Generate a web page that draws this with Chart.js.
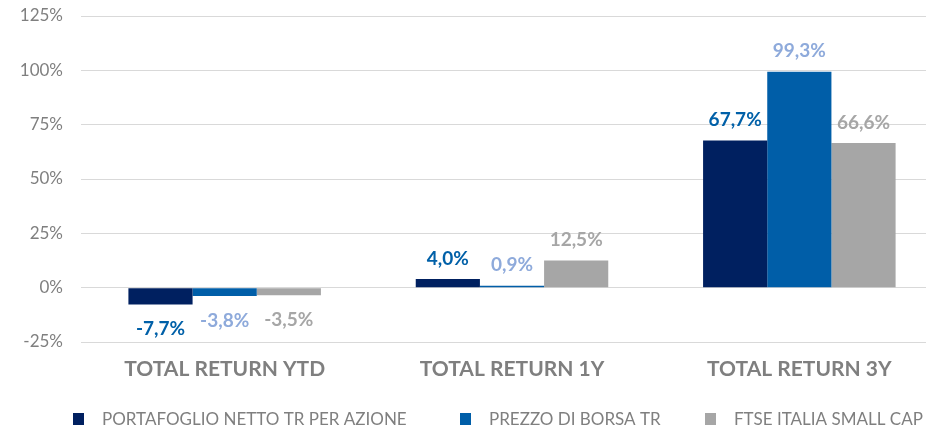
<!DOCTYPE html>
<html>
<head>
<meta charset="utf-8">
<script src="https://cdn.jsdelivr.net/npm/chart.js@4"></script>
<style>
  html, body { margin: 0; padding: 0; background: #fff; overflow: hidden; }
  #wrap { width: 926px; height: 427px; overflow: hidden; }
  #box { width: 1024px; height: 427px; position: relative; }
</style>
</head>
<body>
<div id="wrap"><div id="box"><canvas id="returns"></canvas></div></div>
<script>
// chart data
var categories = ['TOTAL RETURN YTD', 'TOTAL RETURN 1Y', 'TOTAL RETURN 3Y'];
var seriesNames = ['PORTAFOGLIO NETTO TR PER AZIONE', 'PREZZO DI BORSA TR', 'FTSE ITALIA SMALL CAP'];
var portafoglio = [-7.7, 4.0, 67.7];
var prezzo = [-3.8, 0.9, 99.3];
var ftse = [-3.5, 12.5, 66.6];
var yTicks = [-25, 0, 25, 50, 75, 100, 125];

var barColors = ['#002060', '#005EA8', '#A6A6A6'];
var labelColors = ['#0060A8', '#8EAADB', '#A6A6A6'];

function pct(v) {
    return v.toFixed(1).replace('.', ',') + '%';
}

// value labels above / below each bar
var valueLabels = {
    id: 'valueLabels',
    afterDatasetsDraw: function (chart) {
        var ctx = chart.ctx;
        ctx.save();
        ctx.font = 'bold 19px Lato';
        ctx.textAlign = 'center';
        chart.data.datasets.forEach(function (ds, i) {
            var meta = chart.getDatasetMeta(i);
            meta.data.forEach(function (bar, j) {
                var v = ds.data[j];
                ctx.fillStyle = labelColors[i];
                if (v >= 0) {
                    ctx.textBaseline = 'bottom';
                    ctx.fillText(pct(v), bar.x, bar.y - 11);
                } else {
                    ctx.textBaseline = 'top';
                    ctx.fillText(pct(v), bar.x, bar.y + 15);
                }
            });
        });
        ctx.restore();
    }
};

// legend drawn in the strip under the axis (spacing like the office legend)
var bottomLegend = {
    id: 'bottomLegend',
    afterDraw: function (chart) {
        var ctx = chart.ctx;
        var slots = [73, 460, 705];
        var y = 419;
        ctx.save();
        ctx.font = '17px Lato';
        ctx.textBaseline = 'middle';
        ctx.textAlign = 'left';
        chart.data.datasets.forEach(function (ds, i) {
            var x = slots[i];
            ctx.fillStyle = ds.backgroundColor;
            ctx.fillRect(x, y - 6, 11, 12);
            ctx.fillStyle = '#7F7F7F';
            ctx.fillText(ds.label, x + 29, y + 1);
        });
        ctx.restore();
    }
};

try {
    var ctx = document.getElementById('returns').getContext('2d');
    new Chart(ctx, {
        type: 'bar',
        data: {
            labels: categories,
            datasets: [
                { label: seriesNames[0], data: portafoglio, backgroundColor: barColors[0] },
                { label: seriesNames[1], data: prezzo, backgroundColor: barColors[1] },
                { label: seriesNames[2], data: ftse, backgroundColor: barColors[2] }
            ]
        },
        options: {
            responsive: true,
            maintainAspectRatio: false,
            animation: false,
            layout: { padding: { top: 16, right: 81, left: 0, bottom: 45 } },
            datasets: {
                bar: { categoryPercentage: 0.67, barPercentage: 1.0 }
            },
            scales: {
                x: {
                    grid: { display: false },
                    border: { display: false },
                    ticks: {
                        color: '#7F7F7F',
                        font: { family: 'Lato', size: 21, weight: 'bold' },
                        padding: 7
                    },
                    afterFit: function (scale) { scale.height = 40; }
                },
                y: {
                    min: -25,
                    max: 125,
                    afterBuildTicks: function (scale) {
                        scale.ticks = yTicks.map(function (v) { return { value: v }; });
                    },
                    grid: { color: '#D9D9D9', lineWidth: 1, drawTicks: true, tickLength: 18, tickColor: 'rgba(0,0,0,0)' },
                    border: { display: false },
                    ticks: {
                        color: '#7F7F7F',
                        font: { family: 'Lato', size: 17 },
                        padding: 0,
                        callback: function (v) { return v + '%'; }
                    },
                    afterFit: function (scale) { scale.width = 81; }
                }
            },
            plugins: {
                legend: { display: false },
                tooltip: { enabled: false }
            }
        },
        plugins: [valueLabels, bottomLegend]
    });
} catch (e) { console.log(e); }
</script>
</body>
</html>
